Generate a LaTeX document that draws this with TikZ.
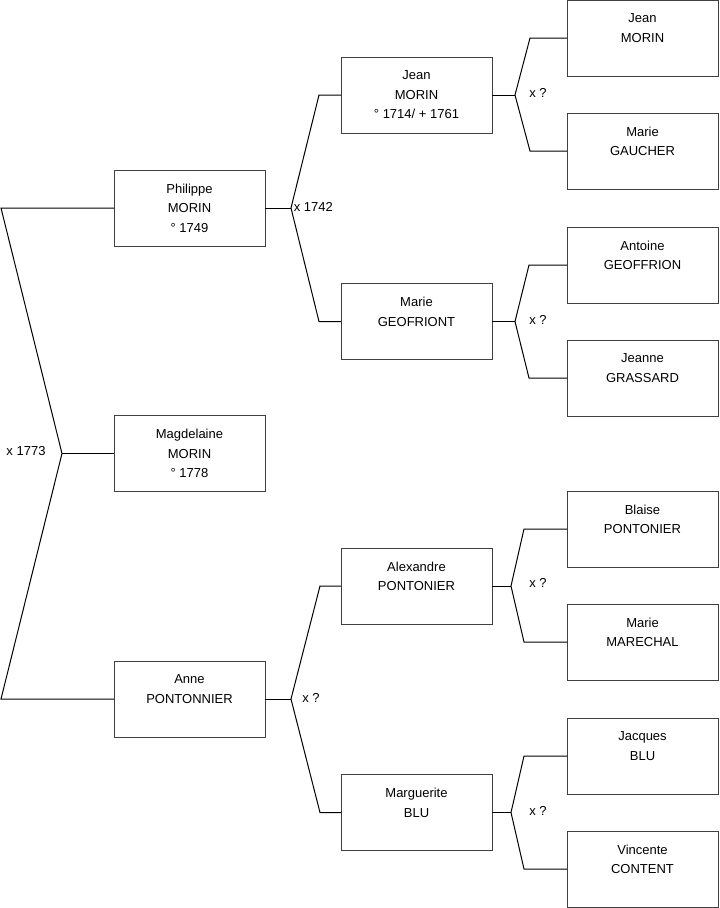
\documentclass[tikz,border=0pt]{standalone}
\usepackage{fontspec}
\setmainfont{Liberation Sans}
\begin{document}
\begin{tikzpicture}[x=0.75pt, y=-0.75pt, line width=0.75pt,
  person/.style={draw=black!75, minimum width=113.25pt, minimum height=57pt,
    inner sep=0pt, outer sep=0pt, align=center,
    font=\fontsize{9.75}{14.6}\selectfont},
  wed/.style={inner sep=1pt, font=\fontsize{9.75}{12}\selectfont}]
  \useasboundingbox (0,0) rectangle (719,908);
  % generation 1
  \node[person] (philippe) at (189.5,208) {Philippe\\MORIN\\° 1749};
  \node[person] (magdelaine) at (189.5,453.5) {Magdelaine\\MORIN\\° 1778};
  \node[person] (anne) at (189.5,699) {Anne\\PONTONNIER\\\phantom{0}};
  % generation 2
  \node[person] (jean) at (416.5,95) {Jean\\MORIN\\° 1714/ + 1761};
  \node[person] (marieg) at (416.5,321.5) {Marie\\GEOFRIONT\\\phantom{0}};
  \node[person] (alexandre) at (416.5,586) {Alexandre\\PONTONIER\\\phantom{0}};
  \node[person] (marguerite) at (416.5,812.5) {Marguerite\\BLU\\\phantom{0}};
  % generation 3
  \node[person] (jeanm) at (642.5,38) {Jean\\MORIN\\\phantom{0}};
  \node[person] (marieb) at (642.5,151) {Marie\\GAUCHER\\\phantom{0}};
  \node[person] (antoine) at (642.5,265) {Antoine\\GEOFFRION\\\phantom{0}};
  \node[person] (jeanne) at (642.5,378) {Jeanne\\GRASSARD\\\phantom{0}};
  \node[person] (blaise) at (642.5,529) {Blaise\\PONTONIER\\\phantom{0}};
  \node[person] (mariem) at (642.5,642) {Marie\\MARECHAL\\\phantom{0}};
  \node[person] (jacques) at (642.5,756) {Jacques\\BLU\\\phantom{0}};
  \node[person] (vincente) at (642.5,869) {Vincente\\CONTENT\\\phantom{0}};
  % marriages
  \coordinate (T0) at (1,208); \coordinate (A0) at (62,453.5); \coordinate (B0) at (1,699);
  \coordinate (A1) at (291,208); \coordinate (A2) at (291,699);
  \coordinate (A3) at (515,95); \coordinate (A4) at (515,321.5);
  \coordinate (A5) at (511,586); \coordinate (A6) at (511,812.5);
  \draw (philippe.west) -- (T0) -- (A0) -- (B0) -- (anne.west);
  \draw (A0) -- (magdelaine.west);
  \draw (philippe.east) -- (A1);
  \draw (jean.west) -- (319,95) -- (A1) -- (319,321.5) -- (marieg.west);
  \draw (anne.east) -- (A2);
  \draw (alexandre.west) -- (320,586) -- (A2) -- (320,812.5) -- (marguerite.west);
  \draw (jean.east) -- (A3);
  \draw (jeanm.west) -- (530,38) -- (A3) -- (530,151) -- (marieb.west);
  \draw (marieg.east) -- (A4);
  \draw (antoine.west) -- (529,265) -- (A4) -- (529,378) -- (jeanne.west);
  \draw (alexandre.east) -- (A5);
  \draw (blaise.west) -- (524,529) -- (A5) -- (524,642) -- (mariem.west);
  \draw (marguerite.east) -- (A6);
  \draw (jacques.west) -- (524,756) -- (A6) -- (524,869) -- (vincente.west);
  \node[wed] (w0) at (26,451) {x 1773};
  \node[wed, anchor=west] (w1) at (292,207) {x 1742};
  \node[wed] (w2) at (311,698) {x ?};
  \node[wed] (w3) at (538,93) {x ?};
  \node[wed] (w4) at (538,320) {x ?};
  \node[wed] (w5) at (538,583) {x ?};
  \node[wed] (w6) at (538,811) {x ?};
\end{tikzpicture}
\end{document}
